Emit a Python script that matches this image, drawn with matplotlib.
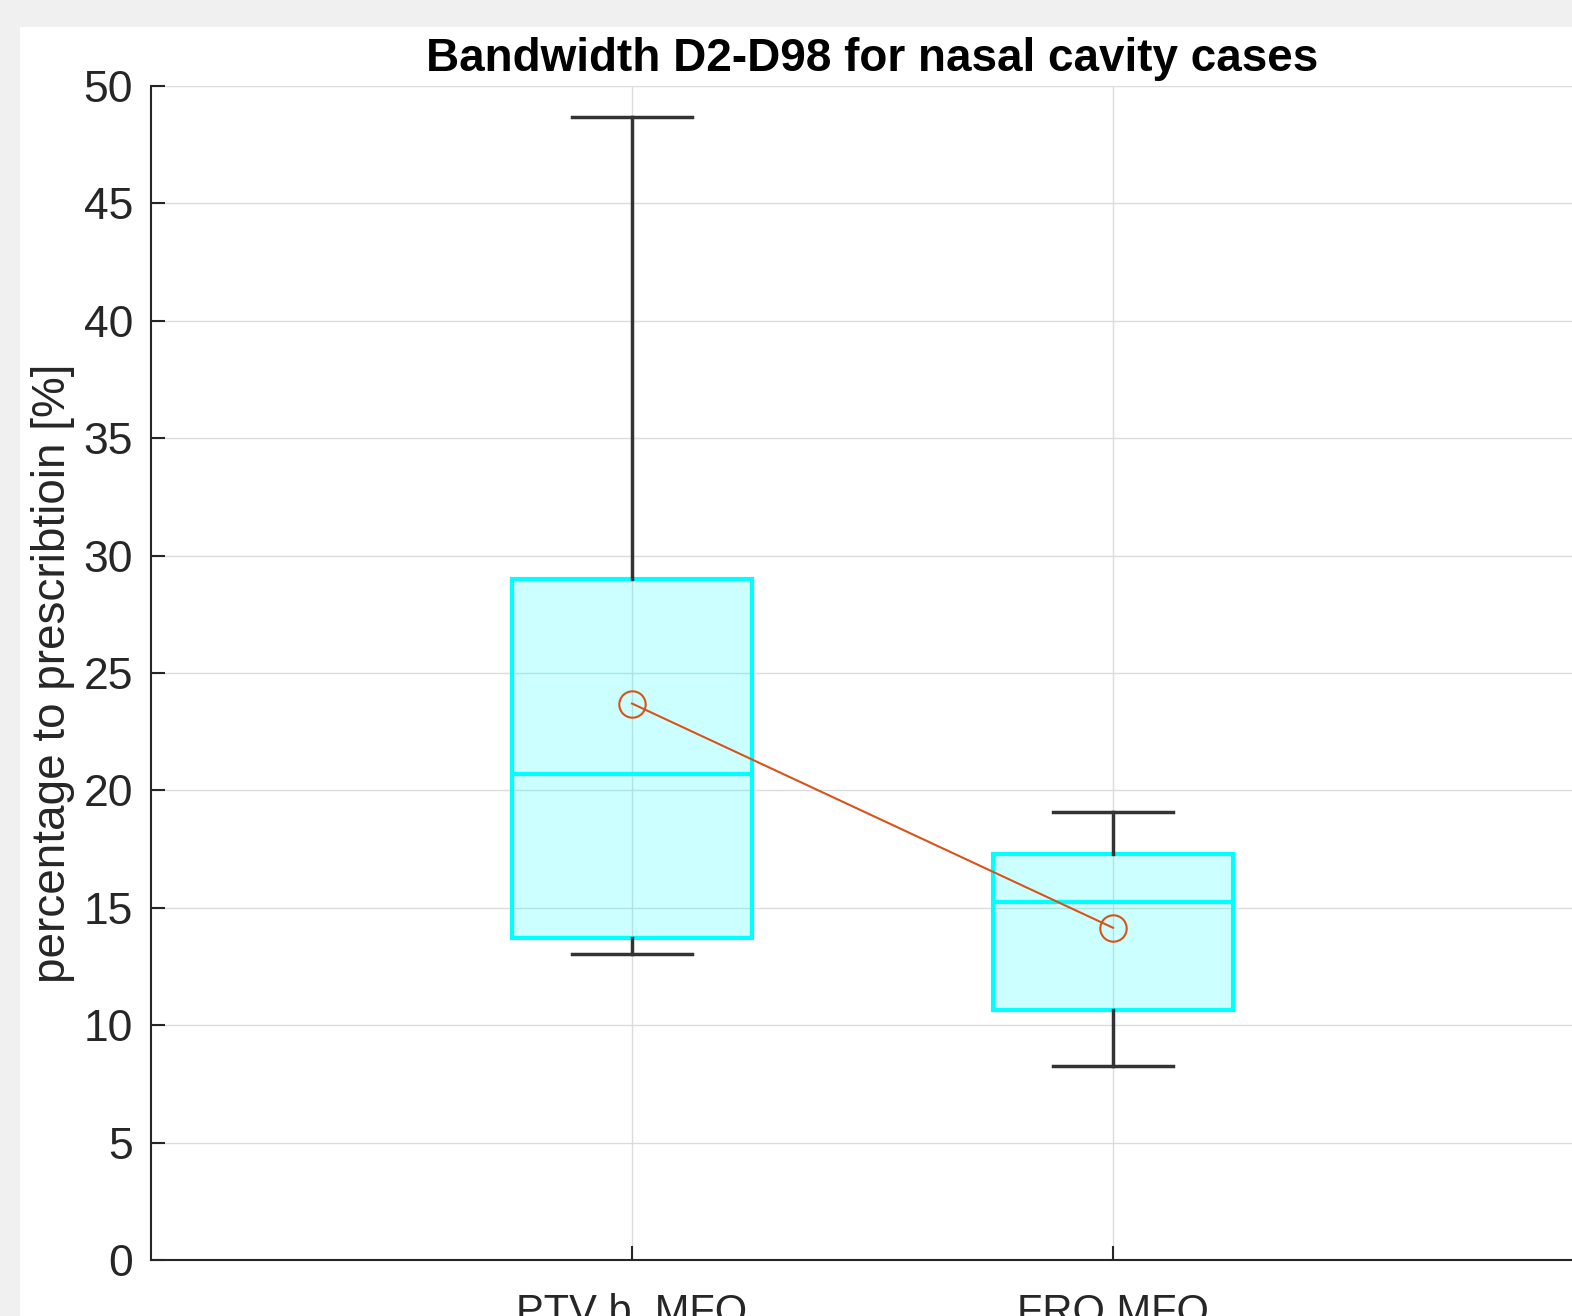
import matplotlib
matplotlib.use("Agg")
import matplotlib.pyplot as plt
from matplotlib.patches import Rectangle

plt.rcParams['font.family'] = ['Liberation Sans', 'DejaVu Sans']

# values
groups = ["PTV b_MFO", "FRO MFO"]
positions = [1, 2]
q1 = [13.7, 10.65]
medians = [20.7, 15.25]
q3 = [29.0, 17.3]
whislo = [13.05, 8.25]
whishi = [48.7, 19.1]
means = [23.7, 14.15]

yticks = list(range(0, 55, 5))

txt = "#262626"
cyan = "#00ffff"
orange = "#d95319"

fig = plt.figure(figsize=(15.72, 13.16), dpi=100, facecolor="#f0f0f0")
fig.patches.append(Rectangle((20 / 1572, 0), 1, 1 - 27 / 1316,
                             transform=fig.transFigure, facecolor="white",
                             edgecolor="none", zorder=-10))

ax = fig.add_axes([151 / 1572, 56 / 1316, 1443 / 1572, 1174 / 1316])
ax.set_facecolor("white")

stats = []
for i in range(len(groups)):
    stats.append({"label": groups[i], "q1": q1[i], "med": medians[i], "q3": q3[i],
                  "whislo": whislo[i], "whishi": whishi[i], "mean": means[i]})

ax.bxp(stats, positions=positions, widths=0.5, patch_artist=True, showfliers=False,
       boxprops=dict(facecolor=(0, 1, 1, 0.2), edgecolor=cyan, linewidth=3),
       medianprops=dict(color=cyan, linewidth=3),
       whiskerprops=dict(color="#333333", linewidth=2.5),
       capprops=dict(color="#333333", linewidth=2.5),
       capwidths=0.25, zorder=3)

ax.plot(positions, means, "-o", color=orange, mfc="none", ms=19, mew=1.5, lw=1.5, zorder=4)

ax.set_xlim(0, 3)
ax.set_ylim(0, 50)
ax.set_yticks(yticks)
ax.set_xticks(positions)
ax.set_xticklabels(groups)

ax.grid(True, color="#dcdcdc", linewidth=1)
ax.set_axisbelow(True)

for s in ["top", "right"]:
    ax.spines[s].set_visible(False)
for s in ["left", "bottom"]:
    ax.spines[s].set_color(txt)
    ax.spines[s].set_linewidth(1.5)

ax.tick_params(axis="both", direction="in", length=10, width=1.5, color=txt,
               labelcolor=txt, labelsize=32)
ax.tick_params(axis="y", pad=13)
ax.tick_params(axis="x", pad=24, labelsize=30)

ax.set_ylabel("percentage to prescribtioin [%]", fontsize=33, color=txt, labelpad=6)
ax.set_title("Bandwidth D2-D98 for nasal cavity cases", fontsize=33, fontweight="bold",
             color="black", pad=11)

fig.savefig("out.png", dpi=100, facecolor=fig.get_facecolor())
